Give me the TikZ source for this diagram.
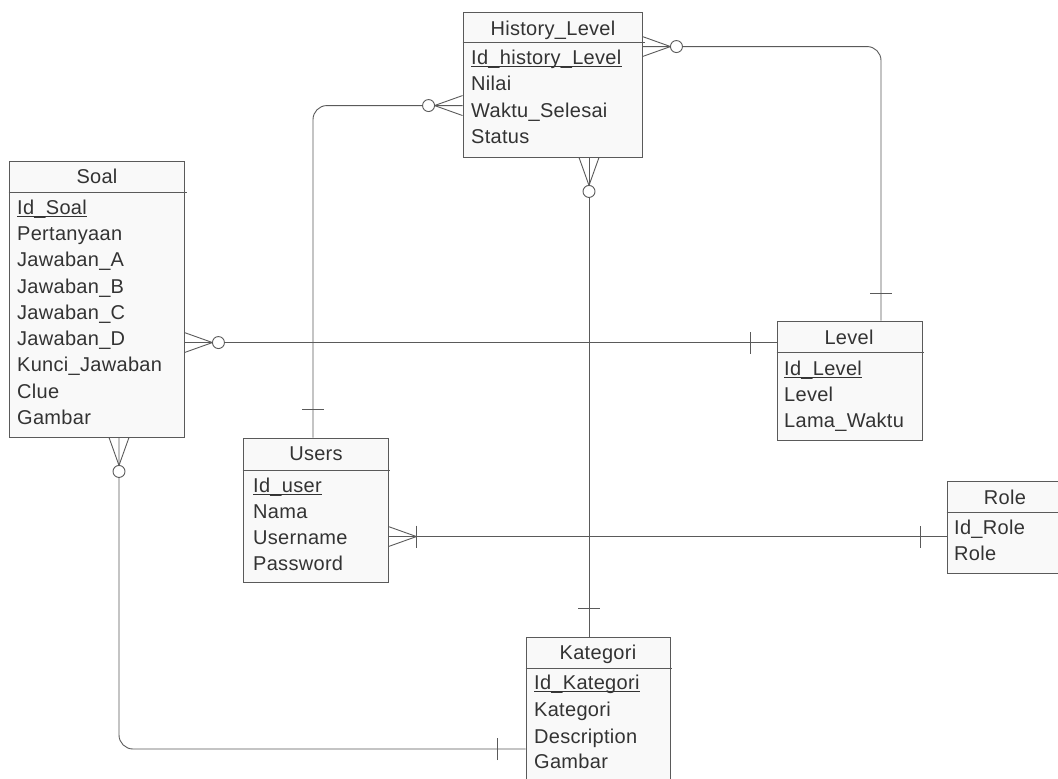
\documentclass[tikz,border=0pt]{standalone}
\usepackage{fontspec}
\setmainfont[LetterSpace=1.5]{Liberation Sans}
\usetikzlibrary{calc}
\definecolor{lc}{HTML}{5A5A5A}
\definecolor{tc}{HTML}{333333}
\definecolor{bf}{HTML}{F9F9F9}
\begin{document}
\begin{tikzpicture}[x=1pt,y=-1pt,
  line/.style={draw=lc, line width=0.9pt},
  ent/.style={rectangle, draw=lc, fill=bf, line width=0.9pt, inner sep=0pt},
  hdr/.style={draw=lc, line width=0.9pt},
  attr/.style={inner sep=0pt, anchor=base west, text=tc, font=\fontsize{20}{24}\selectfont},
  ttl/.style={inner sep=0pt, anchor=base, text=tc, font=\fontsize{20}{24}\selectfont},
  ul/.style={draw=tc, line width=1.3pt},
  pics/many/.style={code={\draw[line] (0,-10) -- (28,0) -- (0,10);}},
  pics/zero/.style={code={\draw[line, fill=white] (34,0) circle[radius=6];}},
  pics/one/.style={code={\draw[line] (#1,-11) -- (#1,11);}},
]
\clip (0,0) rectangle (1058,779);
\fill[white] (0,0) rectangle (1058,779);

% ---------- entities ----------
\node[ent, minimum width=179pt, minimum height=145pt] (hl)  at (552.5,84.5) {};
\node[ent, minimum width=175pt, minimum height=276pt] (soal) at (96.5,299) {};
\node[ent, minimum width=145pt, minimum height=144pt] (usr) at (315.5,510) {};
\node[ent, minimum width=145pt, minimum height=119pt] (lvl) at (849.5,380.5) {};
\node[ent, minimum width=120pt, minimum height=92pt]  (role) at (1007,527) {};
\node[ent, minimum width=144pt, minimum height=158pt] (kat) at (598,716) {};

% header separators
\draw[hdr] ([yshift=-31pt]hl.north west) -- ++(182,0);
\draw[hdr] ([yshift=-32pt]soal.north west) -- ++(178,0);
\draw[hdr] ([yshift=-33pt]usr.north west) -- ++(147,0);
\draw[hdr] ([yshift=-32pt]lvl.north west) -- ++(147,0);
\draw[hdr] ([yshift=-32pt]role.north west) -- ++(122,0);
\draw[hdr] ([yshift=-32pt]kat.north west) -- ++(146,0);

% ---------- History_Level ----------
\node[ttl] (hlT) at (553,35) {History\_Level};
\node[attr] (hl1) at (471,64) {Id\_history\_Level};
\node[attr] (hl2) at (471,90) {Nilai};
\node[attr] (hl3) at (471,117) {Waktu\_Selesai};
\node[attr] (hl4) at (471,143) {Status};
\draw[ul] ([yshift=-2.6pt]hl1.base west) -- ([yshift=-2.6pt]hl1.base east);

% ---------- Soal ----------
\node[ttl] (soalT) at (97,183) {Soal};
\node[attr] (s1) at (17,214) {Id\_Soal};
\node[attr] (s2) at (17,240) {Pertanyaan};
\node[attr] (s3) at (17,266.5) {Jawaban\_A};
\node[attr] (s4) at (17,293) {Jawaban\_B};
\node[attr] (s5) at (17,319) {Jawaban\_C};
\node[attr] (s6) at (17,345) {Jawaban\_D};
\node[attr] (s7) at (17,371.5) {Kunci\_Jawaban};
\node[attr] (s8) at (17,398) {Clue};
\node[attr] (s9) at (17,424) {Gambar};
\draw[ul] ([yshift=-2.6pt]s1.base west) -- ([yshift=-2.6pt]s1.base east);

% ---------- Users ----------
\node[ttl] (usrT) at (316,460) {Users};
\node[attr] (u1) at (253,492) {Id\_user};
\node[attr] (u2) at (253,518) {Nama};
\node[attr] (u3) at (253,544) {Username};
\node[attr] (u4) at (253,570) {Password};
\draw[ul] ([yshift=-2.6pt]u1.base west) -- ([yshift=-2.6pt]u1.base east);

% ---------- Level ----------
\node[ttl] (lvlT) at (849,344) {Level};
\node[attr] (l1) at (784,375) {Id\_Level};
\node[attr] (l2) at (784,401) {Level};
\node[attr] (l3) at (784,427) {Lama\_Waktu};
\draw[ul] ([yshift=-2.6pt]l1.base west) -- ([yshift=-2.6pt]l1.base east);

% ---------- Role ----------
\node[ttl] (roleT) at (1005,504) {Role};
\node[attr] (r1) at (954,534) {Id\_Role};
\node[attr] (r2) at (954,560) {Role};

% ---------- Kategori ----------
\node[ttl] (katT) at (598,659) {Kategori};
\node[attr] (k1) at (534,689) {Id\_Kategori};
\node[attr] (k2) at (534,716) {Kategori};
\node[attr] (k3) at (534,743) {Description};
\node[attr] (k4) at (534,768) {Gambar};
\draw[ul] ([yshift=-2.6pt]k1.base west) -- ([yshift=-2.6pt]k1.base east);

% ---------- relationship end points ----------
\coordinate (hlR)  at ([yshift=-35pt]hl.north east);
\coordinate (lvlN) at ([xshift=31.5pt]lvl.north);
\coordinate (usrN) at ([xshift=-2.5pt]usr.north);
\coordinate (hlL)  at ([yshift=-94pt]hl.north west);
\coordinate (hlB)  at ([xshift=36.5pt]hl.south);
\coordinate (soalR) at ([yshift=-182pt]soal.north east);
\coordinate (usrR) at ([yshift=-99pt]usr.north east);
\coordinate (soalB) at ([xshift=22.5pt]soal.south);

% ---------- relationships ----------
% History_Level >o---| Level
\draw[line, rounded corners=14pt] (hlR) -| (lvlN);
\pic[rotate=0] at (hlR) {many};
\pic[rotate=0] at (hlR) {zero};
\pic[rotate=90] at (lvlN) {one=27};

% Users |---o< History_Level
\draw[line, rounded corners=14pt] (usrN) |- (hlL);
\pic[rotate=180] at (hlL) {many};
\pic[rotate=180] at (hlL) {zero};
\pic[rotate=90] at (usrN) {one=28};

% History_Level >o---| Kategori
\draw[line] (hlB) -- (hlB |- kat.north);
\pic[rotate=-90] at (hlB) {many};
\pic[rotate=-90] at (hlB) {zero};
\pic[rotate=90] at (hlB |- kat.north) {one=28};

% Soal >o---| Level
\draw[line] (soalR) -- (soalR -| lvl.west);
\pic[rotate=0] at (soalR) {many};
\pic[rotate=0] at (soalR) {zero};
\pic[rotate=180] at (soalR -| lvl.west) {one=26};

% Users >|---| Role
\draw[line] (usrR) -- (usrR -| role.west);
\pic[rotate=0] at (usrR) {many};
\pic[rotate=0] at (usrR) {one=28};
\pic[rotate=180] at (usrR -| role.west) {one=26};

% Soal >o---| Kategori
\draw[line, rounded corners=14pt] (soalB) |- ([yshift=-33pt]kat.west);
\pic[rotate=-90] at (soalB) {many};
\pic[rotate=-90] at (soalB) {zero};
\pic[rotate=180] at ([yshift=-33pt]kat.west) {one=28};
\end{tikzpicture}
\end{document}
